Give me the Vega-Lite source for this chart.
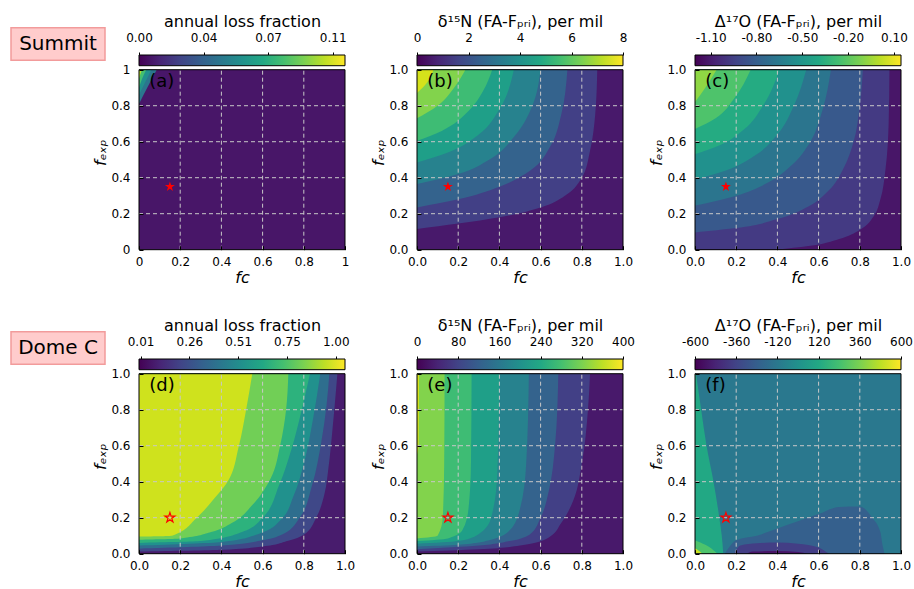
{
  "$schema": "https://vega.github.io/schema/vega-lite/v6.json",
  "padding": {"left": 10, "top": 13, "right": 0, "bottom": 0},
  "datasets": {
    "sites": [{"row": 1, "site": "Summit"}, {"row": 2, "site": "Dome C"}],
    "grid": [{"g": 0.2}, {"g": 0.4}, {"g": 0.6}, {"g": 0.8}],
    "panels": [
      {"p": "a", "cmin": 0, "cmax": 0.117, "bg": 0.0065, "label": "(a)", "sx": 0.15, "sy": 0.35},
      {"p": "b", "cmin": 0, "cmax": 8, "bg": 0.5, "label": "(b)", "sx": 0.15, "sy": 0.35},
      {"p": "c", "cmin": -1.2025, "cmax": 0.146, "bg": -1.1276, "label": "(c)", "sx": 0.15, "sy": 0.35},
      {"p": "d", "cmin": 0.002, "cmax": 1.047, "bg": 0.0766, "label": "(d)", "sx": 0.15, "sy": 0.2},
      {"p": "e", "cmin": 0, "cmax": 400, "bg": 25, "label": "(e)", "sx": 0.15, "sy": 0.2},
      {"p": "f", "cmin": -600, "cmax": 600, "bg": -120, "label": "(f)", "sx": 0.15, "sy": 0.2}
    ],
    "curves": [
      {"p": "a", "k": 1, "v": 0.0456, "x": 0, "y": 0.81}, {"p": "a", "k": 1, "v": 0.0456, "x": 0.04, "y": 0.9}, {"p": "a", "k": 1, "v": 0.0456, "x": 0.086, "y": 1},
      {"p": "a", "k": 2, "v": 0.0585, "x": 0, "y": 0.86}, {"p": "a", "k": 2, "v": 0.0585, "x": 0.03, "y": 0.93}, {"p": "a", "k": 2, "v": 0.0585, "x": 0.06, "y": 1},
      {"p": "a", "k": 3, "v": 0.082, "x": 0, "y": 0.9}, {"p": "a", "k": 3, "v": 0.082, "x": 0.015, "y": 0.95}, {"p": "a", "k": 3, "v": 0.082, "x": 0.035, "y": 1},
      {"p": "a", "k": 4, "v": 0.105, "x": 0, "y": 0.95}, {"p": "a", "k": 4, "v": 0.105, "x": 0.008, "y": 0.98}, {"p": "a", "k": 4, "v": 0.105, "x": 0.015, "y": 1},

      {"p": "b", "k": 1, "v": 1.5, "x": 0, "y": 0.115}, {"p": "b", "k": 1, "v": 1.5, "x": 0.2, "y": 0.145}, {"p": "b", "k": 1, "v": 1.5, "x": 0.4, "y": 0.18}, {"p": "b", "k": 1, "v": 1.5, "x": 0.6, "y": 0.235}, {"p": "b", "k": 1, "v": 1.5, "x": 0.73, "y": 0.31}, {"p": "b", "k": 1, "v": 1.5, "x": 0.8, "y": 0.4}, {"p": "b", "k": 1, "v": 1.5, "x": 0.84, "y": 0.55}, {"p": "b", "k": 1, "v": 1.5, "x": 0.865, "y": 0.75}, {"p": "b", "k": 1, "v": 1.5, "x": 0.875, "y": 1},
      {"p": "b", "k": 2, "v": 2.5, "x": 0, "y": 0.235}, {"p": "b", "k": 2, "v": 2.5, "x": 0.2, "y": 0.28}, {"p": "b", "k": 2, "v": 2.5, "x": 0.4, "y": 0.35}, {"p": "b", "k": 2, "v": 2.5, "x": 0.55, "y": 0.44}, {"p": "b", "k": 2, "v": 2.5, "x": 0.65, "y": 0.58}, {"p": "b", "k": 2, "v": 2.5, "x": 0.7, "y": 0.75}, {"p": "b", "k": 2, "v": 2.5, "x": 0.73, "y": 1},
      {"p": "b", "k": 3, "v": 3.5, "x": 0, "y": 0.365}, {"p": "b", "k": 3, "v": 3.5, "x": 0.2, "y": 0.42}, {"p": "b", "k": 3, "v": 3.5, "x": 0.35, "y": 0.5}, {"p": "b", "k": 3, "v": 3.5, "x": 0.48, "y": 0.64}, {"p": "b", "k": 3, "v": 3.5, "x": 0.56, "y": 0.8}, {"p": "b", "k": 3, "v": 3.5, "x": 0.6, "y": 1},
      {"p": "b", "k": 4, "v": 4.5, "x": 0, "y": 0.485}, {"p": "b", "k": 4, "v": 4.5, "x": 0.15, "y": 0.54}, {"p": "b", "k": 4, "v": 4.5, "x": 0.3, "y": 0.64}, {"p": "b", "k": 4, "v": 4.5, "x": 0.4, "y": 0.78}, {"p": "b", "k": 4, "v": 4.5, "x": 0.47, "y": 1},
      {"p": "b", "k": 5, "v": 5.5, "x": 0, "y": 0.605}, {"p": "b", "k": 5, "v": 5.5, "x": 0.12, "y": 0.66}, {"p": "b", "k": 5, "v": 5.5, "x": 0.25, "y": 0.77}, {"p": "b", "k": 5, "v": 5.5, "x": 0.32, "y": 0.88}, {"p": "b", "k": 5, "v": 5.5, "x": 0.365, "y": 1},
      {"p": "b", "k": 6, "v": 6.5, "x": 0, "y": 0.73}, {"p": "b", "k": 6, "v": 6.5, "x": 0.1, "y": 0.8}, {"p": "b", "k": 6, "v": 6.5, "x": 0.18, "y": 0.9}, {"p": "b", "k": 6, "v": 6.5, "x": 0.235, "y": 1},
      {"p": "b", "k": 7, "v": 7.5, "x": 0, "y": 0.87}, {"p": "b", "k": 7, "v": 7.5, "x": 0.05, "y": 0.93}, {"p": "b", "k": 7, "v": 7.5, "x": 0.08, "y": 1},

      {"p": "c", "k": 1, "v": -0.9777, "x": 0.395, "y": 0}, {"p": "c", "k": 1, "v": -0.9777, "x": 0.55, "y": 0.02}, {"p": "c", "k": 1, "v": -0.9777, "x": 0.7, "y": 0.06}, {"p": "c", "k": 1, "v": -0.9777, "x": 0.8, "y": 0.11}, {"p": "c", "k": 1, "v": -0.9777, "x": 0.87, "y": 0.19}, {"p": "c", "k": 1, "v": -0.9777, "x": 0.9, "y": 0.28}, {"p": "c", "k": 1, "v": -0.9777, "x": 0.925, "y": 0.45}, {"p": "c", "k": 1, "v": -0.9777, "x": 0.94, "y": 0.7}, {"p": "c", "k": 1, "v": -0.9777, "x": 0.944, "y": 1},
      {"p": "c", "k": 2, "v": -0.8279, "x": 0, "y": 0.096}, {"p": "c", "k": 2, "v": -0.8279, "x": 0.2, "y": 0.12}, {"p": "c", "k": 2, "v": -0.8279, "x": 0.4, "y": 0.17}, {"p": "c", "k": 2, "v": -0.8279, "x": 0.55, "y": 0.24}, {"p": "c", "k": 2, "v": -0.8279, "x": 0.65, "y": 0.33}, {"p": "c", "k": 2, "v": -0.8279, "x": 0.72, "y": 0.45}, {"p": "c", "k": 2, "v": -0.8279, "x": 0.77, "y": 0.6}, {"p": "c", "k": 2, "v": -0.8279, "x": 0.8, "y": 0.8}, {"p": "c", "k": 2, "v": -0.8279, "x": 0.815, "y": 1},
      {"p": "c", "k": 3, "v": -0.6781, "x": 0, "y": 0.245}, {"p": "c", "k": 3, "v": -0.6781, "x": 0.2, "y": 0.3}, {"p": "c", "k": 3, "v": -0.6781, "x": 0.35, "y": 0.37}, {"p": "c", "k": 3, "v": -0.6781, "x": 0.47, "y": 0.47}, {"p": "c", "k": 3, "v": -0.6781, "x": 0.56, "y": 0.6}, {"p": "c", "k": 3, "v": -0.6781, "x": 0.62, "y": 0.78}, {"p": "c", "k": 3, "v": -0.6781, "x": 0.66, "y": 1},
      {"p": "c", "k": 4, "v": -0.5282, "x": 0, "y": 0.39}, {"p": "c", "k": 4, "v": -0.5282, "x": 0.15, "y": 0.44}, {"p": "c", "k": 4, "v": -0.5282, "x": 0.3, "y": 0.53}, {"p": "c", "k": 4, "v": -0.5282, "x": 0.4, "y": 0.64}, {"p": "c", "k": 4, "v": -0.5282, "x": 0.48, "y": 0.8}, {"p": "c", "k": 4, "v": -0.5282, "x": 0.54, "y": 1},
      {"p": "c", "k": 5, "v": -0.3784, "x": 0, "y": 0.53}, {"p": "c", "k": 5, "v": -0.3784, "x": 0.12, "y": 0.58}, {"p": "c", "k": 5, "v": -0.3784, "x": 0.24, "y": 0.67}, {"p": "c", "k": 5, "v": -0.3784, "x": 0.33, "y": 0.8}, {"p": "c", "k": 5, "v": -0.3784, "x": 0.41, "y": 1},
      {"p": "c", "k": 6, "v": -0.2286, "x": 0, "y": 0.67}, {"p": "c", "k": 6, "v": -0.2286, "x": 0.1, "y": 0.73}, {"p": "c", "k": 6, "v": -0.2286, "x": 0.19, "y": 0.84}, {"p": "c", "k": 6, "v": -0.2286, "x": 0.27, "y": 1},
      {"p": "c", "k": 7, "v": -0.0787, "x": 0, "y": 0.82}, {"p": "c", "k": 7, "v": -0.0787, "x": 0.05, "y": 0.9}, {"p": "c", "k": 7, "v": -0.0787, "x": 0.105, "y": 1},

      {"p": "d", "k": 1, "v": 0.2259, "x": 0, "y": 0.012}, {"p": "d", "k": 1, "v": 0.2259, "x": 0.41, "y": 0.022}, {"p": "d", "k": 1, "v": 0.2259, "x": 0.6, "y": 0.04}, {"p": "d", "k": 1, "v": 0.2259, "x": 0.72, "y": 0.07}, {"p": "d", "k": 1, "v": 0.2259, "x": 0.8, "y": 0.105}, {"p": "d", "k": 1, "v": 0.2259, "x": 0.86, "y": 0.2}, {"p": "d", "k": 1, "v": 0.2259, "x": 0.9, "y": 0.33}, {"p": "d", "k": 1, "v": 0.2259, "x": 0.92, "y": 0.48}, {"p": "d", "k": 1, "v": 0.2259, "x": 0.94, "y": 0.7}, {"p": "d", "k": 1, "v": 0.2259, "x": 0.952, "y": 0.85}, {"p": "d", "k": 1, "v": 0.2259, "x": 0.963, "y": 1},
      {"p": "d", "k": 2, "v": 0.3752, "x": 0, "y": 0.028}, {"p": "d", "k": 2, "v": 0.3752, "x": 0.4, "y": 0.045}, {"p": "d", "k": 2, "v": 0.3752, "x": 0.6, "y": 0.075}, {"p": "d", "k": 2, "v": 0.3752, "x": 0.7, "y": 0.11}, {"p": "d", "k": 2, "v": 0.3752, "x": 0.78, "y": 0.2}, {"p": "d", "k": 2, "v": 0.3752, "x": 0.84, "y": 0.38}, {"p": "d", "k": 2, "v": 0.3752, "x": 0.885, "y": 0.62}, {"p": "d", "k": 2, "v": 0.3752, "x": 0.91, "y": 0.82}, {"p": "d", "k": 2, "v": 0.3752, "x": 0.924, "y": 1},
      {"p": "d", "k": 3, "v": 0.5245, "x": 0, "y": 0.045}, {"p": "d", "k": 3, "v": 0.5245, "x": 0.4, "y": 0.065}, {"p": "d", "k": 3, "v": 0.5245, "x": 0.58, "y": 0.11}, {"p": "d", "k": 3, "v": 0.5245, "x": 0.69, "y": 0.19}, {"p": "d", "k": 3, "v": 0.5245, "x": 0.75, "y": 0.32}, {"p": "d", "k": 3, "v": 0.5245, "x": 0.8, "y": 0.5}, {"p": "d", "k": 3, "v": 0.5245, "x": 0.845, "y": 0.75}, {"p": "d", "k": 3, "v": 0.5245, "x": 0.88, "y": 1},
      {"p": "d", "k": 4, "v": 0.6738, "x": 0, "y": 0.06}, {"p": "d", "k": 4, "v": 0.6738, "x": 0.3, "y": 0.07}, {"p": "d", "k": 4, "v": 0.6738, "x": 0.5, "y": 0.12}, {"p": "d", "k": 4, "v": 0.6738, "x": 0.6, "y": 0.2}, {"p": "d", "k": 4, "v": 0.6738, "x": 0.68, "y": 0.38}, {"p": "d", "k": 4, "v": 0.6738, "x": 0.74, "y": 0.58}, {"p": "d", "k": 4, "v": 0.6738, "x": 0.79, "y": 0.8}, {"p": "d", "k": 4, "v": 0.6738, "x": 0.83, "y": 1},
      {"p": "d", "k": 5, "v": 0.8231, "x": 0, "y": 0.078}, {"p": "d", "k": 5, "v": 0.8231, "x": 0.2, "y": 0.085}, {"p": "d", "k": 5, "v": 0.8231, "x": 0.35, "y": 0.12}, {"p": "d", "k": 5, "v": 0.8231, "x": 0.45, "y": 0.17}, {"p": "d", "k": 5, "v": 0.8231, "x": 0.55, "y": 0.27}, {"p": "d", "k": 5, "v": 0.8231, "x": 0.64, "y": 0.42}, {"p": "d", "k": 5, "v": 0.8231, "x": 0.685, "y": 0.6}, {"p": "d", "k": 5, "v": 0.8231, "x": 0.714, "y": 0.8}, {"p": "d", "k": 5, "v": 0.8231, "x": 0.725, "y": 1},
      {"p": "d", "k": 6, "v": 0.9724, "x": 0, "y": 0.095}, {"p": "d", "k": 6, "v": 0.9724, "x": 0.16, "y": 0.1}, {"p": "d", "k": 6, "v": 0.9724, "x": 0.28, "y": 0.2}, {"p": "d", "k": 6, "v": 0.9724, "x": 0.36, "y": 0.3}, {"p": "d", "k": 6, "v": 0.9724, "x": 0.43, "y": 0.4}, {"p": "d", "k": 6, "v": 0.9724, "x": 0.485, "y": 0.6}, {"p": "d", "k": 6, "v": 0.9724, "x": 0.52, "y": 0.8}, {"p": "d", "k": 6, "v": 0.9724, "x": 0.55, "y": 1},

      {"p": "e", "k": 1, "v": 75, "x": 0, "y": 0.012}, {"p": "e", "k": 1, "v": 75, "x": 0.3, "y": 0.025}, {"p": "e", "k": 1, "v": 75, "x": 0.5, "y": 0.045}, {"p": "e", "k": 1, "v": 75, "x": 0.64, "y": 0.09}, {"p": "e", "k": 1, "v": 75, "x": 0.7, "y": 0.17}, {"p": "e", "k": 1, "v": 75, "x": 0.76, "y": 0.3}, {"p": "e", "k": 1, "v": 75, "x": 0.8, "y": 0.5}, {"p": "e", "k": 1, "v": 75, "x": 0.83, "y": 0.8}, {"p": "e", "k": 1, "v": 75, "x": 0.84, "y": 1},
      {"p": "e", "k": 2, "v": 125, "x": 0, "y": 0.025}, {"p": "e", "k": 2, "v": 125, "x": 0.3, "y": 0.045}, {"p": "e", "k": 2, "v": 125, "x": 0.45, "y": 0.07}, {"p": "e", "k": 2, "v": 125, "x": 0.55, "y": 0.11}, {"p": "e", "k": 2, "v": 125, "x": 0.6, "y": 0.2}, {"p": "e", "k": 2, "v": 125, "x": 0.64, "y": 0.35}, {"p": "e", "k": 2, "v": 125, "x": 0.67, "y": 0.6}, {"p": "e", "k": 2, "v": 125, "x": 0.686, "y": 1},
      {"p": "e", "k": 3, "v": 175, "x": 0, "y": 0.04}, {"p": "e", "k": 3, "v": 175, "x": 0.2, "y": 0.05}, {"p": "e", "k": 3, "v": 175, "x": 0.35, "y": 0.075}, {"p": "e", "k": 3, "v": 175, "x": 0.45, "y": 0.13}, {"p": "e", "k": 3, "v": 175, "x": 0.5, "y": 0.25}, {"p": "e", "k": 3, "v": 175, "x": 0.53, "y": 0.5}, {"p": "e", "k": 3, "v": 175, "x": 0.543, "y": 1},
      {"p": "e", "k": 4, "v": 225, "x": 0, "y": 0.055}, {"p": "e", "k": 4, "v": 225, "x": 0.2, "y": 0.07}, {"p": "e", "k": 4, "v": 225, "x": 0.3, "y": 0.11}, {"p": "e", "k": 4, "v": 225, "x": 0.36, "y": 0.2}, {"p": "e", "k": 4, "v": 225, "x": 0.39, "y": 0.45}, {"p": "e", "k": 4, "v": 225, "x": 0.4, "y": 1},
      {"p": "e", "k": 5, "v": 275, "x": 0, "y": 0.07}, {"p": "e", "k": 5, "v": 275, "x": 0.15, "y": 0.085}, {"p": "e", "k": 5, "v": 275, "x": 0.22, "y": 0.13}, {"p": "e", "k": 5, "v": 275, "x": 0.25, "y": 0.25}, {"p": "e", "k": 5, "v": 275, "x": 0.262, "y": 0.5}, {"p": "e", "k": 5, "v": 275, "x": 0.265, "y": 1},
      {"p": "e", "k": 6, "v": 325, "x": 0, "y": 0.085}, {"p": "e", "k": 6, "v": 325, "x": 0.1, "y": 0.1}, {"p": "e", "k": 6, "v": 325, "x": 0.125, "y": 0.2}, {"p": "e", "k": 6, "v": 325, "x": 0.132, "y": 0.5}, {"p": "e", "k": 6, "v": 325, "x": 0.134, "y": 1},
      {"p": "e", "k": 7, "v": 375, "x": 0, "y": 0.55}, {"p": "e", "k": 7, "v": 375, "x": 0.008, "y": 0.6}, {"p": "e", "k": 7, "v": 375, "x": 0.01, "y": 1},

      {"p": "f", "k": 1, "v": 120, "x": 0.137, "y": 0}, {"p": "f", "k": 1, "v": 120, "x": 0.13, "y": 0.1}, {"p": "f", "k": 1, "v": 120, "x": 0.118, "y": 0.2}, {"p": "f", "k": 1, "v": 120, "x": 0.09, "y": 0.4}, {"p": "f", "k": 1, "v": 120, "x": 0.056, "y": 0.6}, {"p": "f", "k": 1, "v": 120, "x": 0.03, "y": 0.8}, {"p": "f", "k": 1, "v": 120, "x": 0.005, "y": 1},
      {"p": "f", "k": 2, "v": 264, "x": 0.11, "y": 0}, {"p": "f", "k": 2, "v": 264, "x": 0.1, "y": 0.01}, {"p": "f", "k": 2, "v": 264, "x": 0.05, "y": 0.05}, {"p": "f", "k": 2, "v": 264, "x": 0, "y": 0.075},
      {"p": "f", "k": 3, "v": 504, "x": 0.035, "y": 0}, {"p": "f", "k": 3, "v": 504, "x": 0.02, "y": 0.015}, {"p": "f", "k": 3, "v": 504, "x": 0, "y": 0.03}
    ],
    "bottoms": [
      {"p": "f", "k": 1, "v": -240, "x": 0.145, "y": 0}, {"p": "f", "k": 1, "v": -240, "x": 0.2, "y": 0.075}, {"p": "f", "k": 1, "v": -240, "x": 0.3, "y": 0.1}, {"p": "f", "k": 1, "v": -240, "x": 0.4, "y": 0.14}, {"p": "f", "k": 1, "v": -240, "x": 0.5, "y": 0.18}, {"p": "f", "k": 1, "v": -240, "x": 0.6, "y": 0.22}, {"p": "f", "k": 1, "v": -240, "x": 0.7, "y": 0.26}, {"p": "f", "k": 1, "v": -240, "x": 0.8, "y": 0.262}, {"p": "f", "k": 1, "v": -240, "x": 0.86, "y": 0.2}, {"p": "f", "k": 1, "v": -240, "x": 0.9, "y": 0.12}, {"p": "f", "k": 1, "v": -240, "x": 0.91, "y": 0.05}, {"p": "f", "k": 1, "v": -240, "x": 0.92, "y": 0},
      {"p": "f", "k": 2, "v": -384, "x": 0.19, "y": 0}, {"p": "f", "k": 2, "v": -384, "x": 0.22, "y": 0.045}, {"p": "f", "k": 2, "v": -384, "x": 0.3, "y": 0.058}, {"p": "f", "k": 2, "v": -384, "x": 0.4, "y": 0.062}, {"p": "f", "k": 2, "v": -384, "x": 0.5, "y": 0.055}, {"p": "f", "k": 2, "v": -384, "x": 0.6, "y": 0.035}, {"p": "f", "k": 2, "v": -384, "x": 0.65, "y": 0},
      {"p": "f", "k": 3, "v": -540, "x": 0.25, "y": 0}, {"p": "f", "k": 3, "v": -540, "x": 0.28, "y": 0.012}, {"p": "f", "k": 3, "v": -540, "x": 0.4, "y": 0.015}, {"p": "f", "k": 3, "v": -540, "x": 0.5, "y": 0.01}, {"p": "f", "k": 3, "v": -540, "x": 0.55, "y": 0}
    ]
  },
  "vconcat": [
    {
      "hconcat": [
        {
          "width": 94, "height": 32.6,
          "data": {"name": "sites"},
          "transform": [{"filter": "datum.row == 1"}],
          "layer": [
            {"mark": {"type": "rect", "fill": "#ffcccc", "stroke": "#f29b9b", "strokeWidth": 1.5},
             "encoding": {"x": {"datum": 0, "type": "quantitative", "scale": {"domain": [0, 1], "nice": false}, "axis": null}, "x2": {"datum": 1},
                          "y": {"datum": 0.8374, "type": "quantitative", "scale": {"domain": [0, 1], "nice": false, "zero": false}, "axis": null}, "y2": {"datum": 1.8374}}},
            {"mark": {"type": "text", "fontSize": 20, "color": "black"},
             "encoding": {"text": {"field": "site"}, "x": {"datum": 0.5}, "y": {"datum": 1.35}}}
          ]
        },
        {
          "hconcat": [
            {
              "width": 206, "height": 194.7,
              "resolve": {"scale": {"x": "independent"}, "axis": {"x": "independent", "y": "independent"}},
              "layer": [
                {
                  "layer": [
                    {
                      "data": {"name": "panels"},
                      "transform": [{"filter": "datum.p == 'a'"}],
                      "mark": "rect",
                      "encoding": {
                        "x": {"datum": 0, "type": "quantitative", "scale": {"domain": [0, 1], "nice": false, "zero": false},
                          "axis": {"title": "fc", "values": [0, 0.2, 0.4, 0.6, 0.8, 1], "tickCount": 10, "format": "~g", "orient": "bottom", "labelOverlap": false, "zindex": 1}},
                        "x2": {"datum": 1},
                        "y": {"datum": 0, "type": "quantitative", "scale": {"domain": [0, 1.0817], "nice": false, "zero": false},
                          "axis": {"title": "fₑₓₚ", "values": [0, 0.2, 0.4, 0.6, 0.8, 1], "tickCount": 10, "format": "~g", "orient": "left", "labelOverlap": false, "zindex": 1}},
                        "y2": {"datum": 1},
                        "color": {"field": "bg", "type": "quantitative", "scale": {"scheme": "viridis", "domain": [0, 0.117]}, "legend": null}
                      }
                    },
                    {
                      "data": {"name": "curves"},
                      "transform": [{"filter": "datum.p == 'a'"}],
                      "mark": {"type": "area", "orient": "horizontal", "interpolate": "monotone", "clip": true},
                      "encoding": {
                        "y": {"field": "y", "type": "quantitative"},
                        "x": {"field": "x", "type": "quantitative"},
                        "x2": {"datum": 0},
                        "detail": {"field": "k"},
                        "color": {"field": "v", "type": "quantitative", "legend": null}
                      }
                    },
                    {"data": {"name": "grid"}, "mark": {"type": "rule", "color": "#c8c8c8", "strokeDash": [4, 3], "strokeWidth": 1}, "encoding": {"x": {"field": "g", "type": "quantitative"}, "y": {"datum": 0}, "y2": {"datum": 1}}},
                    {"data": {"name": "grid"}, "mark": {"type": "rule", "color": "#c8c8c8", "strokeDash": [4, 3], "strokeWidth": 1}, "encoding": {"y": {"field": "g", "type": "quantitative"}, "x": {"datum": 0}, "x2": {"datum": 1}}},
                    {
                      "data": {"name": "panels"},
                      "transform": [{"filter": "datum.p == 'a'"}],
                      "layer": [
                        {"mark": {"type": "rect", "filled": false, "color": "black", "strokeWidth": 1}, "encoding": {"x": {"datum": 0}, "x2": {"datum": 1}, "y": {"datum": 0}, "y2": {"datum": 1}}},
                        {"mark": {"type": "text", "align": "left", "fontSize": 18, "color": "black"}, "encoding": {"x": {"datum": 0.05}, "y": {"datum": 0.93}, "text": {"field": "label"}}},
                        {"mark": {"type": "point", "shape": "M0,-1L0.2245,-0.309L0.9511,-0.309L0.3633,0.118L0.5878,0.809L0,0.382L-0.5878,0.809L-0.3633,0.118L-0.9511,-0.309L-0.2245,-0.309Z", "size": 110, "filled": true, "color": "red", "opacity": 1}, "encoding": {"x": {"field": "sx", "type": "quantitative"}, "y": {"field": "sy", "type": "quantitative"}}}
                      ]
                    }
                  ]
                },
                {
                  "data": {"name": "panels"},
                  "transform": [{"filter": "datum.p == 'a'"}],
                  "mark": {"type": "rect", "stroke": "black", "strokeWidth": 1, "fill": {"gradient": "linear", "x1": 0, "y1": 0, "x2": 1, "y2": 0, "stops": [{"offset": 0, "color": "#440154"}, {"offset": 0.1, "color": "#482475"}, {"offset": 0.2, "color": "#414487"}, {"offset": 0.3, "color": "#355f8d"}, {"offset": 0.4, "color": "#2a788e"}, {"offset": 0.5, "color": "#21918c"}, {"offset": 0.6, "color": "#22a884"}, {"offset": 0.7, "color": "#44bf70"}, {"offset": 0.8, "color": "#7ad151"}, {"offset": 0.9, "color": "#bddf26"}, {"offset": 1, "color": "#fde725"}]}},
                  "encoding": {
                    "x": {"field": "cmin", "type": "quantitative", "scale": {"domain": [0, 0.117], "nice": false, "zero": false},
                      "axis": {"orient": "top", "title": "annual loss fraction", "values": [0, 0.0367, 0.0733, 0.11], "tickCount": 10, "format": ".2f"}},
                    "x2": {"field": "cmax"},
                    "y": {"datum": 1.0222, "type": "quantitative", "axis": null},
                    "y2": {"datum": 1.0817}
                  }
                }
              ]
            },
            {
              "width": 206, "height": 194.7,
              "resolve": {"scale": {"x": "independent"}, "axis": {"x": "independent", "y": "independent"}},
              "layer": [
                {
                  "layer": [
                    {
                      "data": {"name": "panels"},
                      "transform": [{"filter": "datum.p == 'b'"}],
                      "mark": "rect",
                      "encoding": {
                        "x": {"datum": 0, "type": "quantitative", "scale": {"domain": [0, 1], "nice": false, "zero": false},
                          "axis": {"title": "fc", "values": [0, 0.2, 0.4, 0.6, 0.8, 1], "tickCount": 10, "format": ".1f", "orient": "bottom", "labelOverlap": false, "zindex": 1}},
                        "x2": {"datum": 1},
                        "y": {"datum": 0, "type": "quantitative", "scale": {"domain": [0, 1.0817], "nice": false, "zero": false},
                          "axis": {"title": "fₑₓₚ", "values": [0, 0.2, 0.4, 0.6, 0.8, 1], "tickCount": 10, "format": ".1f", "orient": "left", "labelOverlap": false, "zindex": 1}},
                        "y2": {"datum": 1},
                        "color": {"field": "bg", "type": "quantitative", "scale": {"scheme": "viridis", "domain": [0, 8]}, "legend": null}
                      }
                    },
                    {
                      "data": {"name": "curves"},
                      "transform": [{"filter": "datum.p == 'b'"}],
                      "mark": {"type": "area", "orient": "horizontal", "interpolate": "monotone", "clip": true},
                      "encoding": {
                        "y": {"field": "y", "type": "quantitative"},
                        "x": {"field": "x", "type": "quantitative"},
                        "x2": {"datum": 0},
                        "detail": {"field": "k"},
                        "color": {"field": "v", "type": "quantitative", "legend": null}
                      }
                    },
                    {"data": {"name": "grid"}, "mark": {"type": "rule", "color": "#c8c8c8", "strokeDash": [4, 3], "strokeWidth": 1}, "encoding": {"x": {"field": "g", "type": "quantitative"}, "y": {"datum": 0}, "y2": {"datum": 1}}},
                    {"data": {"name": "grid"}, "mark": {"type": "rule", "color": "#c8c8c8", "strokeDash": [4, 3], "strokeWidth": 1}, "encoding": {"y": {"field": "g", "type": "quantitative"}, "x": {"datum": 0}, "x2": {"datum": 1}}},
                    {
                      "data": {"name": "panels"},
                      "transform": [{"filter": "datum.p == 'b'"}],
                      "layer": [
                        {"mark": {"type": "rect", "filled": false, "color": "black", "strokeWidth": 1}, "encoding": {"x": {"datum": 0}, "x2": {"datum": 1}, "y": {"datum": 0}, "y2": {"datum": 1}}},
                        {"mark": {"type": "text", "align": "left", "fontSize": 18, "color": "black"}, "encoding": {"x": {"datum": 0.05}, "y": {"datum": 0.93}, "text": {"field": "label"}}},
                        {"mark": {"type": "point", "shape": "M0,-1L0.2245,-0.309L0.9511,-0.309L0.3633,0.118L0.5878,0.809L0,0.382L-0.5878,0.809L-0.3633,0.118L-0.9511,-0.309L-0.2245,-0.309Z", "size": 110, "filled": true, "color": "red", "opacity": 1}, "encoding": {"x": {"field": "sx", "type": "quantitative"}, "y": {"field": "sy", "type": "quantitative"}}}
                      ]
                    }
                  ]
                },
                {
                  "data": {"name": "panels"},
                  "transform": [{"filter": "datum.p == 'b'"}],
                  "mark": {"type": "rect", "stroke": "black", "strokeWidth": 1, "fill": {"gradient": "linear", "x1": 0, "y1": 0, "x2": 1, "y2": 0, "stops": [{"offset": 0, "color": "#440154"}, {"offset": 0.1, "color": "#482475"}, {"offset": 0.2, "color": "#414487"}, {"offset": 0.3, "color": "#355f8d"}, {"offset": 0.4, "color": "#2a788e"}, {"offset": 0.5, "color": "#21918c"}, {"offset": 0.6, "color": "#22a884"}, {"offset": 0.7, "color": "#44bf70"}, {"offset": 0.8, "color": "#7ad151"}, {"offset": 0.9, "color": "#bddf26"}, {"offset": 1, "color": "#fde725"}]}},
                  "encoding": {
                    "x": {"field": "cmin", "type": "quantitative", "scale": {"domain": [0, 8], "nice": false, "zero": false},
                      "axis": {"orient": "top", "title": "δ¹⁵N (FA-Fₚᵣᵢ), per mil", "values": [0, 2, 4, 6, 8], "tickCount": 10, "format": "d"}},
                    "x2": {"field": "cmax"},
                    "y": {"datum": 1.0222, "type": "quantitative", "axis": null},
                    "y2": {"datum": 1.0817}
                  }
                }
              ]
            },
            {
              "width": 206, "height": 194.7,
              "resolve": {"scale": {"x": "independent"}, "axis": {"x": "independent", "y": "independent"}},
              "layer": [
                {
                  "layer": [
                    {
                      "data": {"name": "panels"},
                      "transform": [{"filter": "datum.p == 'c'"}],
                      "mark": "rect",
                      "encoding": {
                        "x": {"datum": 0, "type": "quantitative", "scale": {"domain": [0, 1], "nice": false, "zero": false},
                          "axis": {"title": "fc", "values": [0, 0.2, 0.4, 0.6, 0.8, 1], "tickCount": 10, "format": ".1f", "orient": "bottom", "labelOverlap": false, "zindex": 1}},
                        "x2": {"datum": 1},
                        "y": {"datum": 0, "type": "quantitative", "scale": {"domain": [0, 1.0817], "nice": false, "zero": false},
                          "axis": {"title": "fₑₓₚ", "values": [0, 0.2, 0.4, 0.6, 0.8, 1], "tickCount": 10, "format": ".1f", "orient": "left", "labelOverlap": false, "zindex": 1}},
                        "y2": {"datum": 1},
                        "color": {"field": "bg", "type": "quantitative", "scale": {"scheme": "viridis", "domain": [-1.2025, 0.146]}, "legend": null}
                      }
                    },
                    {
                      "data": {"name": "curves"},
                      "transform": [{"filter": "datum.p == 'c'"}],
                      "mark": {"type": "area", "orient": "horizontal", "interpolate": "monotone", "clip": true},
                      "encoding": {
                        "y": {"field": "y", "type": "quantitative"},
                        "x": {"field": "x", "type": "quantitative"},
                        "x2": {"datum": 0},
                        "detail": {"field": "k"},
                        "color": {"field": "v", "type": "quantitative", "legend": null}
                      }
                    },
                    {"data": {"name": "grid"}, "mark": {"type": "rule", "color": "#c8c8c8", "strokeDash": [4, 3], "strokeWidth": 1}, "encoding": {"x": {"field": "g", "type": "quantitative"}, "y": {"datum": 0}, "y2": {"datum": 1}}},
                    {"data": {"name": "grid"}, "mark": {"type": "rule", "color": "#c8c8c8", "strokeDash": [4, 3], "strokeWidth": 1}, "encoding": {"y": {"field": "g", "type": "quantitative"}, "x": {"datum": 0}, "x2": {"datum": 1}}},
                    {
                      "data": {"name": "panels"},
                      "transform": [{"filter": "datum.p == 'c'"}],
                      "layer": [
                        {"mark": {"type": "rect", "filled": false, "color": "black", "strokeWidth": 1}, "encoding": {"x": {"datum": 0}, "x2": {"datum": 1}, "y": {"datum": 0}, "y2": {"datum": 1}}},
                        {"mark": {"type": "text", "align": "left", "fontSize": 18, "color": "black"}, "encoding": {"x": {"datum": 0.05}, "y": {"datum": 0.93}, "text": {"field": "label"}}},
                        {"mark": {"type": "point", "shape": "M0,-1L0.2245,-0.309L0.9511,-0.309L0.3633,0.118L0.5878,0.809L0,0.382L-0.5878,0.809L-0.3633,0.118L-0.9511,-0.309L-0.2245,-0.309Z", "size": 110, "filled": true, "color": "red", "opacity": 1}, "encoding": {"x": {"field": "sx", "type": "quantitative"}, "y": {"field": "sy", "type": "quantitative"}}}
                      ]
                    }
                  ]
                },
                {
                  "data": {"name": "panels"},
                  "transform": [{"filter": "datum.p == 'c'"}],
                  "mark": {"type": "rect", "stroke": "black", "strokeWidth": 1, "fill": {"gradient": "linear", "x1": 0, "y1": 0, "x2": 1, "y2": 0, "stops": [{"offset": 0, "color": "#440154"}, {"offset": 0.1, "color": "#482475"}, {"offset": 0.2, "color": "#414487"}, {"offset": 0.3, "color": "#355f8d"}, {"offset": 0.4, "color": "#2a788e"}, {"offset": 0.5, "color": "#21918c"}, {"offset": 0.6, "color": "#22a884"}, {"offset": 0.7, "color": "#44bf70"}, {"offset": 0.8, "color": "#7ad151"}, {"offset": 0.9, "color": "#bddf26"}, {"offset": 1, "color": "#fde725"}]}},
                  "encoding": {
                    "x": {"field": "cmin", "type": "quantitative", "scale": {"domain": [-1.2025, 0.146], "nice": false, "zero": false},
                      "axis": {"orient": "top", "title": "Δ¹⁷O (FA-Fₚᵣᵢ), per mil", "values": [-1.1, -0.8, -0.5, -0.2, 0.1], "tickCount": 10, "format": ".2f", "labelExpr": "replace(datum.label, '−', '-')"}},
                    "x2": {"field": "cmax"},
                    "y": {"datum": 1.0222, "type": "quantitative", "axis": null},
                    "y2": {"datum": 1.0817}
                  }
                }
              ]
            }
          ],
          "spacing": 72, "bounds": "flush",
          "resolve": {"scale": {"color": "independent"}}
        }
      ],
      "spacing": -14,
      "resolve": {"scale": {"color": "independent"}}
    },
    {
      "hconcat": [
        {
          "width": 94, "height": 32.6,
          "data": {"name": "sites"},
          "transform": [{"filter": "datum.row == 2"}],
          "layer": [
            {"mark": {"type": "rect", "fill": "#ffcccc", "stroke": "#f29b9b", "strokeWidth": 1.5},
             "encoding": {"x": {"datum": 0, "type": "quantitative", "scale": {"domain": [0, 1], "nice": false}, "axis": null}, "x2": {"datum": 1},
                          "y": {"datum": 0.8374, "type": "quantitative", "scale": {"domain": [0, 1], "nice": false, "zero": false}, "axis": null}, "y2": {"datum": 1.8374}}},
            {"mark": {"type": "text", "fontSize": 20, "color": "black"},
             "encoding": {"text": {"field": "site"}, "x": {"datum": 0.5}, "y": {"datum": 1.35}}}
          ]
        },
        {
          "hconcat": [
            {
              "width": 206, "height": 194.7,
              "resolve": {"scale": {"x": "independent"}, "axis": {"x": "independent", "y": "independent"}},
              "layer": [
                {
                  "layer": [
                    {
                      "data": {"name": "panels"},
                      "transform": [{"filter": "datum.p == 'd'"}],
                      "mark": "rect",
                      "encoding": {
                        "x": {"datum": 0, "type": "quantitative", "scale": {"domain": [0, 1], "nice": false, "zero": false},
                          "axis": {"title": "fc", "values": [0, 0.2, 0.4, 0.6, 0.8, 1], "tickCount": 10, "format": ".1f", "orient": "bottom", "labelOverlap": false, "zindex": 1}},
                        "x2": {"datum": 1},
                        "y": {"datum": 0, "type": "quantitative", "scale": {"domain": [0, 1.0817], "nice": false, "zero": false},
                          "axis": {"title": "fₑₓₚ", "values": [0, 0.2, 0.4, 0.6, 0.8, 1], "tickCount": 10, "format": ".1f", "orient": "left", "labelOverlap": false, "zindex": 1}},
                        "y2": {"datum": 1},
                        "color": {"field": "bg", "type": "quantitative", "scale": {"scheme": "viridis", "domain": [0.002, 1.047]}, "legend": null}
                      }
                    },
                    {
                      "data": {"name": "curves"},
                      "transform": [{"filter": "datum.p == 'd'"}],
                      "mark": {"type": "area", "orient": "horizontal", "interpolate": "monotone", "clip": true},
                      "encoding": {
                        "y": {"field": "y", "type": "quantitative"},
                        "x": {"field": "x", "type": "quantitative"},
                        "x2": {"datum": 0},
                        "detail": {"field": "k"},
                        "color": {"field": "v", "type": "quantitative", "legend": null}
                      }
                    },
                    {"data": {"name": "grid"}, "mark": {"type": "rule", "color": "#c8c8c8", "strokeDash": [4, 3], "strokeWidth": 1}, "encoding": {"x": {"field": "g", "type": "quantitative"}, "y": {"datum": 0}, "y2": {"datum": 1}}},
                    {"data": {"name": "grid"}, "mark": {"type": "rule", "color": "#c8c8c8", "strokeDash": [4, 3], "strokeWidth": 1}, "encoding": {"y": {"field": "g", "type": "quantitative"}, "x": {"datum": 0}, "x2": {"datum": 1}}},
                    {
                      "data": {"name": "panels"},
                      "transform": [{"filter": "datum.p == 'd'"}],
                      "layer": [
                        {"mark": {"type": "rect", "filled": false, "color": "black", "strokeWidth": 1}, "encoding": {"x": {"datum": 0}, "x2": {"datum": 1}, "y": {"datum": 0}, "y2": {"datum": 1}}},
                        {"mark": {"type": "text", "align": "left", "fontSize": 18, "color": "black"}, "encoding": {"x": {"datum": 0.05}, "y": {"datum": 0.93}, "text": {"field": "label"}}},
                        {"mark": {"type": "point", "shape": "M0,-1L0.2245,-0.309L0.9511,-0.309L0.3633,0.118L0.5878,0.809L0,0.382L-0.5878,0.809L-0.3633,0.118L-0.9511,-0.309L-0.2245,-0.309Z", "size": 110, "filled": false, "color": "red", "strokeWidth": 1.2, "opacity": 1}, "encoding": {"x": {"field": "sx", "type": "quantitative"}, "y": {"field": "sy", "type": "quantitative"}}}
                      ]
                    }
                  ]
                },
                {
                  "data": {"name": "panels"},
                  "transform": [{"filter": "datum.p == 'd'"}],
                  "mark": {"type": "rect", "stroke": "black", "strokeWidth": 1, "fill": {"gradient": "linear", "x1": 0, "y1": 0, "x2": 1, "y2": 0, "stops": [{"offset": 0, "color": "#440154"}, {"offset": 0.1, "color": "#482475"}, {"offset": 0.2, "color": "#414487"}, {"offset": 0.3, "color": "#355f8d"}, {"offset": 0.4, "color": "#2a788e"}, {"offset": 0.5, "color": "#21918c"}, {"offset": 0.6, "color": "#22a884"}, {"offset": 0.7, "color": "#44bf70"}, {"offset": 0.8, "color": "#7ad151"}, {"offset": 0.9, "color": "#bddf26"}, {"offset": 1, "color": "#fde725"}]}},
                  "encoding": {
                    "x": {"field": "cmin", "type": "quantitative", "scale": {"domain": [0.002, 1.047], "nice": false, "zero": false},
                      "axis": {"orient": "top", "title": "annual loss fraction", "values": [0.01, 0.2576, 0.5051, 0.7525, 1.0], "tickCount": 10, "format": ".2f"}},
                    "x2": {"field": "cmax"},
                    "y": {"datum": 1.0222, "type": "quantitative", "axis": null},
                    "y2": {"datum": 1.0817}
                  }
                }
              ]
            },
            {
              "width": 206, "height": 194.7,
              "resolve": {"scale": {"x": "independent"}, "axis": {"x": "independent", "y": "independent"}},
              "layer": [
                {
                  "layer": [
                    {
                      "data": {"name": "panels"},
                      "transform": [{"filter": "datum.p == 'e'"}],
                      "mark": "rect",
                      "encoding": {
                        "x": {"datum": 0, "type": "quantitative", "scale": {"domain": [0, 1], "nice": false, "zero": false},
                          "axis": {"title": "fc", "values": [0, 0.2, 0.4, 0.6, 0.8, 1], "tickCount": 10, "format": ".1f", "orient": "bottom", "labelOverlap": false, "zindex": 1}},
                        "x2": {"datum": 1},
                        "y": {"datum": 0, "type": "quantitative", "scale": {"domain": [0, 1.0817], "nice": false, "zero": false},
                          "axis": {"title": "fₑₓₚ", "values": [0, 0.2, 0.4, 0.6, 0.8, 1], "tickCount": 10, "format": ".1f", "orient": "left", "labelOverlap": false, "zindex": 1}},
                        "y2": {"datum": 1},
                        "color": {"field": "bg", "type": "quantitative", "scale": {"scheme": "viridis", "domain": [0, 400]}, "legend": null}
                      }
                    },
                    {
                      "data": {"name": "curves"},
                      "transform": [{"filter": "datum.p == 'e'"}],
                      "mark": {"type": "area", "orient": "horizontal", "interpolate": "monotone", "clip": true},
                      "encoding": {
                        "y": {"field": "y", "type": "quantitative"},
                        "x": {"field": "x", "type": "quantitative"},
                        "x2": {"datum": 0},
                        "detail": {"field": "k"},
                        "color": {"field": "v", "type": "quantitative", "legend": null}
                      }
                    },
                    {"data": {"name": "grid"}, "mark": {"type": "rule", "color": "#c8c8c8", "strokeDash": [4, 3], "strokeWidth": 1}, "encoding": {"x": {"field": "g", "type": "quantitative"}, "y": {"datum": 0}, "y2": {"datum": 1}}},
                    {"data": {"name": "grid"}, "mark": {"type": "rule", "color": "#c8c8c8", "strokeDash": [4, 3], "strokeWidth": 1}, "encoding": {"y": {"field": "g", "type": "quantitative"}, "x": {"datum": 0}, "x2": {"datum": 1}}},
                    {
                      "data": {"name": "panels"},
                      "transform": [{"filter": "datum.p == 'e'"}],
                      "layer": [
                        {"mark": {"type": "rect", "filled": false, "color": "black", "strokeWidth": 1}, "encoding": {"x": {"datum": 0}, "x2": {"datum": 1}, "y": {"datum": 0}, "y2": {"datum": 1}}},
                        {"mark": {"type": "text", "align": "left", "fontSize": 18, "color": "black"}, "encoding": {"x": {"datum": 0.05}, "y": {"datum": 0.93}, "text": {"field": "label"}}},
                        {"mark": {"type": "point", "shape": "M0,-1L0.2245,-0.309L0.9511,-0.309L0.3633,0.118L0.5878,0.809L0,0.382L-0.5878,0.809L-0.3633,0.118L-0.9511,-0.309L-0.2245,-0.309Z", "size": 110, "filled": false, "color": "red", "strokeWidth": 1.2, "opacity": 1}, "encoding": {"x": {"field": "sx", "type": "quantitative"}, "y": {"field": "sy", "type": "quantitative"}}}
                      ]
                    }
                  ]
                },
                {
                  "data": {"name": "panels"},
                  "transform": [{"filter": "datum.p == 'e'"}],
                  "mark": {"type": "rect", "stroke": "black", "strokeWidth": 1, "fill": {"gradient": "linear", "x1": 0, "y1": 0, "x2": 1, "y2": 0, "stops": [{"offset": 0, "color": "#440154"}, {"offset": 0.1, "color": "#482475"}, {"offset": 0.2, "color": "#414487"}, {"offset": 0.3, "color": "#355f8d"}, {"offset": 0.4, "color": "#2a788e"}, {"offset": 0.5, "color": "#21918c"}, {"offset": 0.6, "color": "#22a884"}, {"offset": 0.7, "color": "#44bf70"}, {"offset": 0.8, "color": "#7ad151"}, {"offset": 0.9, "color": "#bddf26"}, {"offset": 1, "color": "#fde725"}]}},
                  "encoding": {
                    "x": {"field": "cmin", "type": "quantitative", "scale": {"domain": [0, 400], "nice": false, "zero": false},
                      "axis": {"orient": "top", "title": "δ¹⁵N (FA-Fₚᵣᵢ), per mil", "values": [0, 80, 160, 240, 320, 400], "tickCount": 10, "format": "d"}},
                    "x2": {"field": "cmax"},
                    "y": {"datum": 1.0222, "type": "quantitative", "axis": null},
                    "y2": {"datum": 1.0817}
                  }
                }
              ]
            },
            {
              "width": 206, "height": 194.7,
              "resolve": {"scale": {"x": "independent"}, "axis": {"x": "independent", "y": "independent"}},
              "layer": [
                {
                  "layer": [
                    {
                      "data": {"name": "panels"},
                      "transform": [{"filter": "datum.p == 'f'"}],
                      "mark": "rect",
                      "encoding": {
                        "x": {"datum": 0, "type": "quantitative", "scale": {"domain": [0, 1], "nice": false, "zero": false},
                          "axis": {"title": "fc", "values": [0, 0.2, 0.4, 0.6, 0.8, 1], "tickCount": 10, "format": ".1f", "orient": "bottom", "labelOverlap": false, "zindex": 1}},
                        "x2": {"datum": 1},
                        "y": {"datum": 0, "type": "quantitative", "scale": {"domain": [0, 1.0817], "nice": false, "zero": false},
                          "axis": {"title": "fₑₓₚ", "values": [0, 0.2, 0.4, 0.6, 0.8, 1], "tickCount": 10, "format": ".1f", "orient": "left", "labelOverlap": false, "zindex": 1}},
                        "y2": {"datum": 1},
                        "color": {"field": "bg", "type": "quantitative", "scale": {"scheme": "viridis", "domain": [-600, 600]}, "legend": null}
                      }
                    },
                    {
                      "data": {"name": "curves"},
                      "transform": [{"filter": "datum.p == 'f'"}],
                      "mark": {"type": "area", "orient": "horizontal", "interpolate": "monotone", "clip": true},
                      "encoding": {
                        "y": {"field": "y", "type": "quantitative"},
                        "x": {"field": "x", "type": "quantitative"},
                        "x2": {"datum": 0},
                        "detail": {"field": "k"},
                        "color": {"field": "v", "type": "quantitative", "legend": null}
                      }
                    },
                    {
                      "data": {"name": "bottoms"},
                      "transform": [{"filter": "datum.p == 'f'"}],
                      "mark": {"type": "area", "orient": "vertical", "interpolate": "monotone", "clip": true},
                      "encoding": {
                        "x": {"field": "x", "type": "quantitative"},
                        "y": {"field": "y", "type": "quantitative"},
                        "y2": {"datum": 0},
                        "detail": {"field": "k"},
                        "color": {"field": "v", "type": "quantitative", "legend": null}
                      }
                    },
                    {"data": {"name": "grid"}, "mark": {"type": "rule", "color": "#c8c8c8", "strokeDash": [4, 3], "strokeWidth": 1}, "encoding": {"x": {"field": "g", "type": "quantitative"}, "y": {"datum": 0}, "y2": {"datum": 1}}},
                    {"data": {"name": "grid"}, "mark": {"type": "rule", "color": "#c8c8c8", "strokeDash": [4, 3], "strokeWidth": 1}, "encoding": {"y": {"field": "g", "type": "quantitative"}, "x": {"datum": 0}, "x2": {"datum": 1}}},
                    {
                      "data": {"name": "panels"},
                      "transform": [{"filter": "datum.p == 'f'"}],
                      "layer": [
                        {"mark": {"type": "rect", "filled": false, "color": "black", "strokeWidth": 1}, "encoding": {"x": {"datum": 0}, "x2": {"datum": 1}, "y": {"datum": 0}, "y2": {"datum": 1}}},
                        {"mark": {"type": "text", "align": "left", "fontSize": 18, "color": "black"}, "encoding": {"x": {"datum": 0.05}, "y": {"datum": 0.93}, "text": {"field": "label"}}},
                        {"mark": {"type": "point", "shape": "M0,-1L0.2245,-0.309L0.9511,-0.309L0.3633,0.118L0.5878,0.809L0,0.382L-0.5878,0.809L-0.3633,0.118L-0.9511,-0.309L-0.2245,-0.309Z", "size": 110, "filled": false, "color": "red", "strokeWidth": 1.2, "opacity": 1}, "encoding": {"x": {"field": "sx", "type": "quantitative"}, "y": {"field": "sy", "type": "quantitative"}}}
                      ]
                    }
                  ]
                },
                {
                  "data": {"name": "panels"},
                  "transform": [{"filter": "datum.p == 'f'"}],
                  "mark": {"type": "rect", "stroke": "black", "strokeWidth": 1, "fill": {"gradient": "linear", "x1": 0, "y1": 0, "x2": 1, "y2": 0, "stops": [{"offset": 0, "color": "#440154"}, {"offset": 0.1, "color": "#482475"}, {"offset": 0.2, "color": "#414487"}, {"offset": 0.3, "color": "#355f8d"}, {"offset": 0.4, "color": "#2a788e"}, {"offset": 0.5, "color": "#21918c"}, {"offset": 0.6, "color": "#22a884"}, {"offset": 0.7, "color": "#44bf70"}, {"offset": 0.8, "color": "#7ad151"}, {"offset": 0.9, "color": "#bddf26"}, {"offset": 1, "color": "#fde725"}]}},
                  "encoding": {
                    "x": {"field": "cmin", "type": "quantitative", "scale": {"domain": [-600, 600], "nice": false, "zero": false},
                      "axis": {"orient": "top", "title": "Δ¹⁷O (FA-Fₚᵣᵢ), per mil", "values": [-600, -360, -120, 120, 360, 600], "tickCount": 10, "format": "d", "labelExpr": "replace(datum.label, '−', '-')"}},
                    "x2": {"field": "cmax"},
                    "y": {"datum": 1.0222, "type": "quantitative", "axis": null},
                    "y2": {"datum": 1.0817}
                  }
                }
              ]
            }
          ],
          "spacing": 72, "bounds": "flush",
          "resolve": {"scale": {"color": "independent"}}
        }
      ],
      "spacing": -14,
      "resolve": {"scale": {"color": "independent"}}
    }
  ],
  "spacing": 31,
  "resolve": {"scale": {"color": "independent"}},
  "config": {
    "font": "DejaVu Sans",
    "view": {"stroke": null},
    "text": {"font": "DejaVu Sans"},
    "axis": {"labelFont": "DejaVu Sans", "titleFont": "DejaVu Sans", "labelFontSize": 12, "titleFontSize": 16, "labelColor": "black", "titleColor": "black", "titleFontWeight": "normal", "tickColor": "black", "domain": false, "grid": false, "labelFlush": false, "labelOverlap": false},
    "axisBottom": {"tickSize": -4, "labelPadding": 11, "titlePadding": 2, "titleFontStyle": "italic"},
    "axisLeft": {"tickSize": -4, "labelPadding": 13, "titlePadding": 2, "titleFontStyle": "italic"},
    "axisTop": {"tickSize": 3, "labelPadding": 8, "titlePadding": 2, "titleFontStyle": "normal"}
  }
}
